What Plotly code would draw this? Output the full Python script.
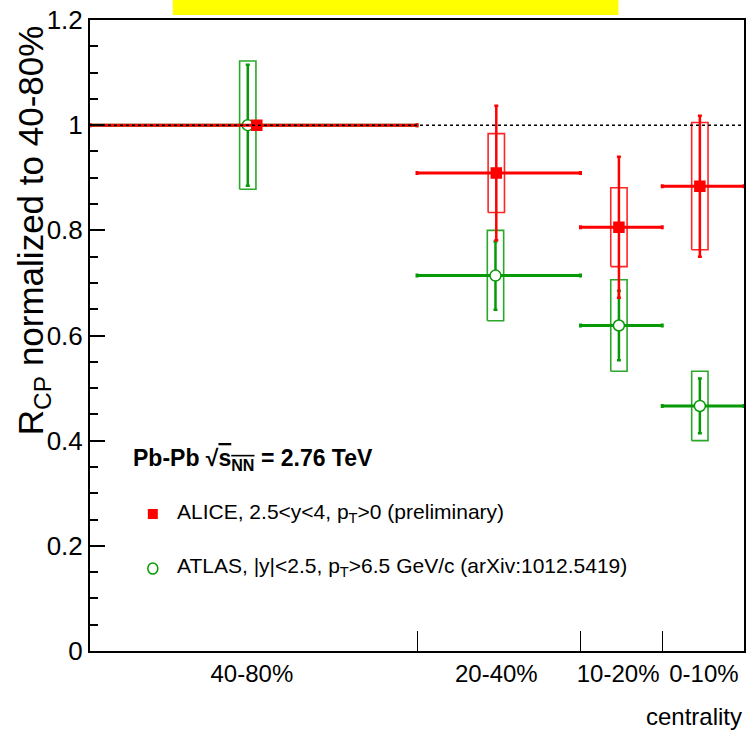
import plotly.graph_objects as go

# ---------------- data ----------------
bin_lo = [0, 40, 60, 70]
bin_hi = [40, 60, 70, 80]
bin_labels = ["40-80%", "20-40%", "10-20%", "0-10%"]
label_pos = [19.8, 49.7, 64.6, 75.1]
bin_edges_inner = [40, 60, 70]

alice_x = [20.4, 49.7, 64.7, 74.6]
alice_val = [1.0, 0.909, 0.806, 0.884]
alice_stat = [0.0, 0.128, 0.134, 0.134]
alice_syst = [0.0, 0.075, 0.075, 0.121]

atlas_x = [19.3, 49.6, 64.7, 74.6]
atlas_val = [1.0, 0.714, 0.619, 0.466]
atlas_stat = [0.115, 0.065, 0.066, 0.052]
atlas_syst = [0.122, 0.086, 0.087, 0.066]

yticks = [0, 0.2, 0.4, 0.6, 0.8, 1.0, 1.2]
yticktext = ["0", "0.2", "0.4", "0.6", "0.8", "1", "1.2"]

box_half = 1.0

RED = "#ff0000"
GREEN = "#079a07"
FONT = "Liberation Sans, Arial, sans-serif"

W, H = 749, 742
L, R, T, B = 90, 3, 20, 91
PW, PH = W - L - R, H - T - B


def px(xp):
    return (xp - L) / PW


def py(yp):
    return (H - B - yp) / PH


fig = go.Figure()


def add_boxes(xs, vals, systs, color):
    bx, by = [], []
    for x, v, s in zip(xs, vals, systs):
        if s <= 0:
            continue
        bx += [x - box_half, x + box_half, x + box_half, x - box_half, x - box_half, None]
        by += [v - s, v - s, v + s, v + s, v - s, None]
    fig.add_trace(go.Scatter(x=bx, y=by, mode="lines", line=dict(color=color, width=1.6),
                             opacity=0.85, showlegend=False, hoverinfo="skip"))


def add_points(xs, vals, stat, color, symbol, size, fillcolor):
    fig.add_trace(go.Scatter(
        x=xs, y=vals, mode="markers",
        marker=dict(symbol=symbol, size=size, color=fillcolor,
                    line=dict(color=color, width=1.5)),
        error_x=dict(type="data", symmetric=False,
                     array=[h - x for h, x in zip(bin_hi, xs)],
                     arrayminus=[x - l for l, x in zip(bin_lo, xs)],
                     color=color, thickness=3, width=2),
        error_y=dict(type="data", array=stat, color=color, thickness=2.5, width=2),
        showlegend=False, hoverinfo="skip"))


add_boxes(atlas_x, atlas_val, atlas_syst, GREEN)
add_points(atlas_x, atlas_val, atlas_stat, GREEN, "circle", 11, "white")
add_boxes(alice_x, alice_val, alice_syst, RED)
add_points(alice_x, alice_val, alice_stat, RED, "square", 10, RED)

shapes = []
# dotted reference line at 1
shapes.append(dict(type="line", xref="x", yref="y", x0=0, x1=80, y0=1, y1=1,
                   line=dict(color="black", width=1.5, dash="dot"), layer="above"))
# yellow banner
shapes.append(dict(type="rect", xref="paper", yref="paper", x0=px(173), x1=px(620),
                   y0=py(15), y1=py(0), fillcolor="#ffff00", line=dict(width=0)))
# legend icons
shapes.append(dict(type="rect", xref="paper", yref="paper", x0=px(148), x1=px(158),
                   y0=py(519), y1=py(509), fillcolor=RED, line=dict(width=0)))
shapes.append(dict(type="circle", xref="paper", yref="paper", x0=px(148), x1=px(158),
                   y0=py(574), y1=py(563), line=dict(color=GREEN, width=1.5)))

annotations = []
annotations.append(dict(xref="paper", yref="paper", x=px(33), y=py(230),
                        text="R<sub>CP</sub> normalized to 40-80%", textangle=-90,
                        showarrow=False, font=dict(family=FONT, size=35, color="black"),
                        xanchor="center", yanchor="middle"))
annotations.append(dict(xref="paper", yref="paper", x=px(746), y=py(716),
                        text="centrality", showarrow=False,
                        font=dict(family=FONT, size=24, color="black"),
                        xanchor="right", yanchor="middle"))
annotations.append(dict(xref="paper", yref="paper", x=px(131), y=py(460),
                        text="<b>Pb-Pb \u221a<span style='text-decoration:overline'>s<sub>NN</sub></span> = 2.76 TeV</b>",
                        showarrow=False, font=dict(family=FONT, size=23, color="black"),
                        xanchor="left", yanchor="middle"))
annotations.append(dict(xref="paper", yref="paper", x=px(175), y=py(513),
                        text="ALICE, 2.5&lt;y&lt;4, p<sub>T</sub>&gt;0 (preliminary)",
                        showarrow=False, font=dict(family=FONT, size=21, color="black"),
                        xanchor="left", yanchor="middle"))
annotations.append(dict(xref="paper", yref="paper", x=px(175), y=py(567),
                        text="ATLAS, |y|&lt;2.5, p<sub>T</sub>&gt;6.5 GeV/c (arXiv:1012.5419)",
                        showarrow=False, font=dict(family=FONT, size=21, color="black"),
                        xanchor="left", yanchor="middle"))

fig.update_layout(
    width=W, height=H,
    margin=dict(l=L, r=R, t=T, b=B, pad=0),
    paper_bgcolor="white", plot_bgcolor="white",
    shapes=shapes, annotations=annotations,
    showlegend=False,
)

fig.update_xaxes(
    range=[0, 80], showgrid=False, zeroline=False,
    showline=True, linecolor="black", linewidth=2, mirror=True,
    tickmode="array", tickvals=label_pos, ticktext=bin_labels, ticks="",
    tickangle=0,
    tickfont=dict(family=FONT, size=24, color="black"),
    minor=dict(tickmode="array", tickvals=bin_edges_inner, ticks="inside",
               ticklen=20, tickwidth=1, tickcolor="black", showgrid=False),
)
fig.update_yaxes(
    range=[0, 1.2], showgrid=False, zeroline=False,
    showline=True, linecolor="black", linewidth=2, mirror=True,
    tickmode="array", tickvals=yticks, ticktext=yticktext,
    ticks="inside", ticklen=15, tickwidth=1.5, tickcolor="black",
    tickfont=dict(family=FONT, size=26, color="black"),
    minor=dict(dtick=0.05, ticks="inside", ticklen=8, tickwidth=1.5,
               tickcolor="black", showgrid=False),
)

fig.write_html("out.html")
